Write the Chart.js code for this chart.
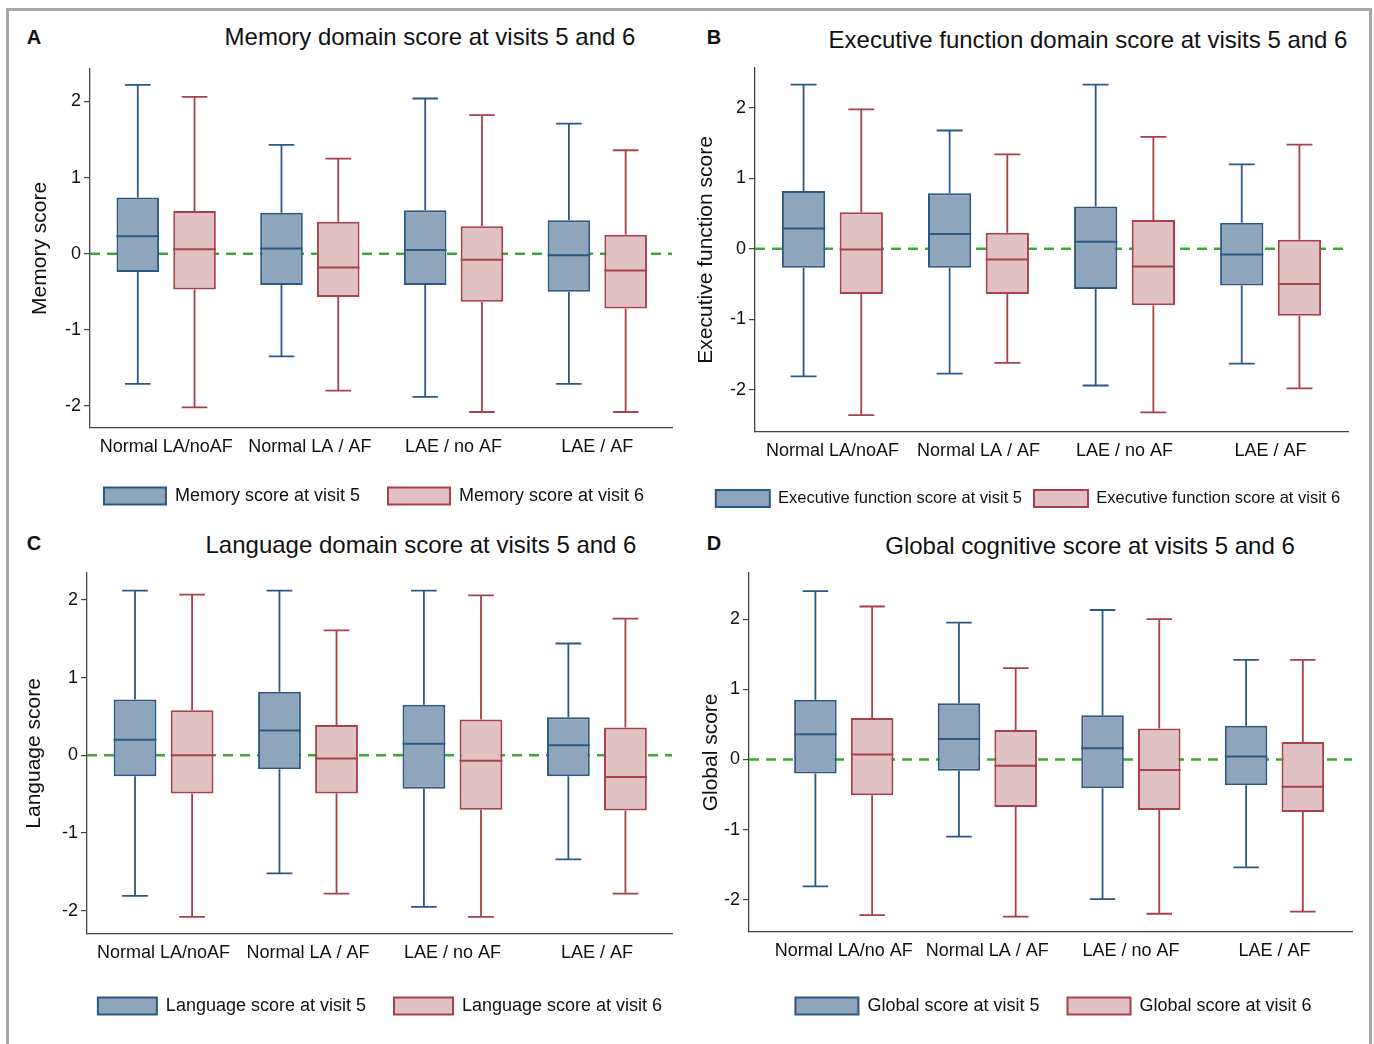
<!DOCTYPE html>
<html>
<head>
<meta charset="utf-8">
<script src="https://cdn.jsdelivr.net/npm/chart.js@4.4.1/dist/chart.umd.min.js"></script>
<style>
  body { margin: 0; background: #fff; width: 1374px; height: 1044px; overflow: hidden; position: relative;
         font-family: "Liberation Sans", Arial, sans-serif; color: #111; }
  #frame { position: absolute; left: 6px; top: 8px; width: 1360px; height: 1100px; border: 3px solid #a8a8a8; }
  .panel { position: absolute; }
  .lbl { position: absolute; font-weight: bold; font-size: 20px; transform: translate(-50%, -50%); }
  .ttl { position: absolute; font-size: 24px; white-space: nowrap; transform: translate(-50%, -50%); }
</style>
</head>
<body>
<div id="frame"></div>
<div class="lbl" style="left:34px;top:37px">A</div>
<div class="lbl" style="left:714px;top:37px">B</div>
<div class="lbl" style="left:34px;top:543px">C</div>
<div class="lbl" style="left:714px;top:543px">D</div>
<div class="ttl" style="left:430px;top:37px">Memory domain score at visits 5 and 6</div>
<div class="ttl" style="left:1088px;top:40px">Executive function domain score at visits 5 and 6</div>
<div class="ttl" style="left:421px;top:545px">Language domain score at visits 5 and 6</div>
<div class="ttl" style="left:1090px;top:546px">Global cognitive score at visits 5 and 6</div>

<div class="panel" style="left:24px;top:55px;width:666px;height:460px"><canvas id="chartA"></canvas></div>
<div class="panel" style="left:690px;top:54px;width:676px;height:463px"><canvas id="chartB"></canvas></div>
<div class="panel" style="left:18px;top:559px;width:672px;height:466px"><canvas id="chartC"></canvas></div>
<div class="panel" style="left:695px;top:559px;width:675px;height:466px"><canvas id="chartD"></canvas></div>

<script>
const groups = ['Normal LA/noAF', 'Normal LA / AF', 'LAE / no AF', 'LAE / AF'];
const groupsGlobal = ['Normal LA/no AF', 'Normal LA / AF', 'LAE / no AF', 'LAE / AF'];
const yTicks = [-2, -1, 0, 1, 2];

// each entry: [min, q1, median, q3, max]
const memoryV5 = [[-1.71, -0.24, 0.23, 0.74, 2.22], [-1.35, -0.41, 0.07, 0.54, 1.43], [-1.88, -0.41, 0.05, 0.57, 2.04], [-1.71, -0.50, -0.02, 0.44, 1.71]];
const memoryV6 = [[-2.02, -0.47, 0.06, 0.56, 2.06], [-1.80, -0.57, -0.18, 0.42, 1.25], [-2.08, -0.63, -0.08, 0.36, 1.82], [-2.08, -0.72, -0.22, 0.25, 1.36]];
const execV5 = [[-1.81, -0.27, 0.29, 0.82, 2.33], [-1.77, -0.27, 0.21, 0.79, 1.68], [-1.94, -0.57, 0.10, 0.60, 2.33], [-1.63, -0.52, -0.08, 0.37, 1.20]];
const execV6 = [[-2.36, -0.64, -0.01, 0.52, 1.98], [-1.62, -0.64, -0.15, 0.23, 1.34], [-2.32, -0.80, -0.25, 0.41, 1.59], [-1.98, -0.95, -0.50, 0.13, 1.48]];
const langV5 = [[-1.81, -0.27, 0.20, 0.72, 2.12], [-1.52, -0.18, 0.32, 0.82, 2.12], [-1.95, -0.43, 0.15, 0.65, 2.12], [-1.34, -0.27, 0.13, 0.49, 1.44]];
const langV6 = [[-2.08, -0.49, 0.00, 0.58, 2.07], [-1.78, -0.49, -0.04, 0.39, 1.61], [-2.08, -0.70, -0.07, 0.46, 2.06], [-1.78, -0.71, -0.28, 0.36, 1.76]];
const globalV5 = [[-1.81, -0.20, 0.36, 0.85, 2.40], [-1.10, -0.16, 0.29, 0.80, 1.95], [-1.99, -0.41, 0.16, 0.63, 2.13], [-1.54, -0.37, 0.04, 0.48, 1.42]];
const globalV6 = [[-2.22, -0.51, 0.07, 0.59, 2.18], [-2.24, -0.68, -0.09, 0.42, 1.30], [-2.20, -0.72, -0.15, 0.44, 2.00], [-2.17, -0.75, -0.39, 0.25, 1.42]];

const FONT = '"Liberation Sans", Arial, sans-serif';
const BLUE = '#8ea5bb', BLUE_LINE = '#2c5884';
const RED = '#e0c2c4', RED_LINE = '#a9404b';

// whiskers, caps, zero line and medians drawn through the chart's own scale
const boxPlugin = {
  id: 'boxes',
  beforeDatasetsDraw(chart) {
    const { ctx, chartArea, scales: { y } } = chart;
    const y0 = y.getPixelForValue(0);
    ctx.save();
    ctx.strokeStyle = '#3aaa35';
    ctx.lineWidth = 2.5;
    ctx.setLineDash([10, 7]);
    ctx.beginPath();
    ctx.moveTo(chartArea.left, y0);
    ctx.lineTo(chartArea.right, y0);
    ctx.stroke();
    ctx.setLineDash([]);
    chart.data.datasets.forEach((ds, di) => {
      ctx.strokeStyle = ds.borderColor;
      ctx.lineWidth = 1.8;
      chart.getDatasetMeta(di).data.forEach((bar, i) => {
        const [lo, q1, , q3, hi] = ds.stats[i].map(v => y.getPixelForValue(v));
        const half = bar.width * 0.3;
        ctx.beginPath();
        ctx.moveTo(bar.x, q3); ctx.lineTo(bar.x, hi);
        ctx.moveTo(bar.x - half, hi); ctx.lineTo(bar.x + half, hi);
        ctx.moveTo(bar.x, q1); ctx.lineTo(bar.x, lo);
        ctx.moveTo(bar.x - half, lo); ctx.lineTo(bar.x + half, lo);
        ctx.stroke();
      });
    });
    ctx.restore();
  },
  afterDatasetsDraw(chart) {
    const { ctx, scales: { y } } = chart;
    ctx.save();
    chart.data.datasets.forEach((ds, di) => {
      ctx.strokeStyle = ds.borderColor;
      ctx.lineWidth = 2;
      chart.getDatasetMeta(di).data.forEach((bar, i) => {
        const m = y.getPixelForValue(ds.stats[i][2]);
        ctx.beginPath();
        ctx.moveTo(bar.x - bar.width / 2, m);
        ctx.lineTo(bar.x + bar.width / 2, m);
        ctx.stroke();
      });
    });
    ctx.restore();
  }
};

// nudge the legend sideways so it sits where the original put it
const legendShift = {
  id: 'legendShift',
  afterLayout(chart, args, opts) {
    const l = chart.legend;
    if (l && opts.dx) { l.left += opts.dx; l.right += opts.dx; }
  }
};

function makeChart(id, labels, v5, v6, name5, name6, yTitle, yMin, yMax, p) {
  const mk = (label, stats, fill, line) => ({
    label, stats,
    data: stats.map((s, i) => ({ x: i, y: [s[1], s[3]] })),
    backgroundColor: fill, borderColor: line, borderWidth: 2, borderSkipped: false,
    categoryPercentage: 0.79, barPercentage: 0.75
  });
  return new Chart(document.getElementById(id), {
    type: 'bar',
    data: { datasets: [mk(name5, v5, BLUE, BLUE_LINE), mk(name6, v6, RED, RED_LINE)] },
    options: {
      responsive: true, maintainAspectRatio: false, animation: false,
      layout: { padding: { top: 0, right: 18, bottom: 0, left: 0 } },
      plugins: {
        tooltip: { enabled: false },
        legendShift: { dx: p.dx },
        legend: {
          position: 'bottom',
          labels: { boxWidth: p.box, boxHeight: 17, padding: p.pad, color: '#111', font: { family: FONT, size: p.lf } }
        }
      },
      scales: {
        x: {
          type: 'linear', offset: false, min: p.xMin, max: p.xMax,
          afterBuildTicks: s => { s.ticks = labels.map((l, i) => ({ value: i })); },
          grid: { display: false, drawTicks: false },
          border: { display: true, color: '#444', width: 1.3 },
          ticks: { padding: 8, color: '#111', maxRotation: 0, autoSkip: false, font: { family: FONT, size: 18 },
                   callback: v => labels[v] },
          afterFit: s => { s.height = p.xh; }
        },
        y: {
          min: yMin, max: yMax,
          afterBuildTicks: s => { s.ticks = yTicks.map(v => ({ value: v })); },
          afterFit: s => { s.width = p.yw; },
          grid: { display: true, drawOnChartArea: false, drawTicks: true, tickLength: 6, color: '#444', lineWidth: 1.2 },
          border: { display: true, color: '#444', width: 1.3 },
          ticks: { padding: 3, color: '#111', font: { family: FONT, size: 18 }, callback: v => String(v) },
          title: { display: true, text: yTitle, color: '#111', font: { family: FONT, size: 21 } }
        }
      }
    },
    plugins: [boxPlugin, legendShift]
  });
}

makeChart('chartA', groups, memoryV5, memoryV6, 'Memory score at visit 5', 'Memory score at visit 6',
  'Memory score', -2.29, 2.43, { xMin: -0.53, xMax: 3.52, yw: 66, xh: 31, lf: 18, box: 62, pad: 28, dx: 26 });
makeChart('chartB', groups, execV5, execV6, 'Executive function score at visit 5', 'Executive function score at visit 6',
  'Executive function score', -2.60, 2.57, { xMin: -0.53, xMax: 3.53, yw: 65, xh: 46, lf: 16.5, box: 54, pad: 12, dx: 9 });
makeChart('chartC', groups, langV5, langV6, 'Language score at visit 5', 'Language score at visit 6',
  'Language score', -2.30, 2.35, { xMin: -0.53, xMax: 3.52, yw: 69, xh: 35, lf: 18, box: 59, pad: 28, dx: 35 });
makeChart('chartD', groupsGlobal, globalV5, globalV6, 'Global score at visit 5', 'Global score at visit 6',
  'Global score', -2.46, 2.66, { xMin: -0.66, xMax: 3.54, yw: 54, xh: 37, lf: 18, box: 63, pad: 28, dx: 30 });
</script>
</body>
</html>
